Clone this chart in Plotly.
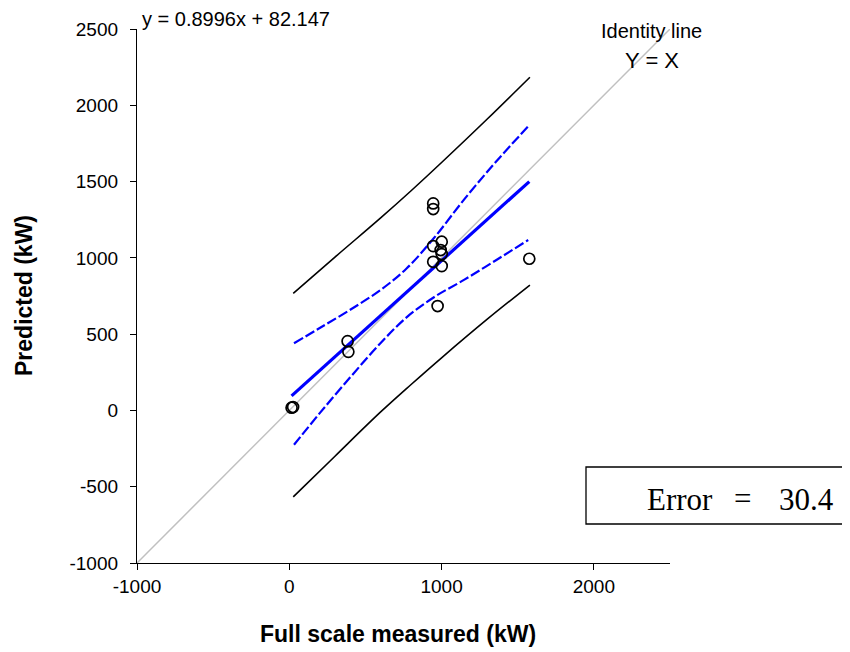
import plotly.graph_objects as go

# Measured vs predicted data points
measured = [15, 25, 383, 388, 945, 945, 945, 1001, 994, 1001, 945, 1001, 1576, 974]
predicted = [18, 22, 454, 384, 1357, 1320, 1077, 1106, 1051, 1025, 974, 946, 994, 684]

# Regression fit (from the equation shown)
slope = 0.8996
intercept = 82.147
fit_x = [15, 1576]

# Confidence band (blue dashed)
conf_up_x = [31, 200, 400, 600, 770, 950, 1150, 1360, 1569]
conf_up_y = [440, 540, 660, 790, 930, 1130, 1385, 1633, 1862]
conf_lo_x = [31, 200, 400, 600, 770, 950, 1150, 1360, 1569]
conf_lo_y = [-225, -18, 217, 442, 610, 742, 857, 986, 1117]

# Prediction band (black)
pred_up_x = [26, 300, 600, 800, 1000, 1300, 1580]
pred_up_y = [767, 1005, 1262, 1440, 1625, 1910, 2184]
pred_lo_x = [26, 300, 600, 800, 1000, 1300, 1580]
pred_lo_y = [-567, -300, -10, 170, 345, 598, 822]

# Identity line
ident = [-1000, 2500]

x_ticks = [-1000, 0, 1000, 2000]
y_ticks = [-1000, -500, 0, 500, 1000, 1500, 2000, 2500]

SANS = "Liberation Sans, Arial, sans-serif"
SERIF = "Liberation Serif, Times New Roman, serif"

fig = go.Figure()

fig.add_trace(go.Scatter(x=ident, y=ident, mode="lines",
                         line=dict(color="#c0c0c0", width=1.5), hoverinfo="skip"))
fig.add_trace(go.Scatter(x=pred_up_x, y=pred_up_y, mode="lines",
                         line=dict(color="black", width=1.6, shape="spline")))
fig.add_trace(go.Scatter(x=pred_lo_x, y=pred_lo_y, mode="lines",
                         line=dict(color="black", width=1.6, shape="spline")))
fig.add_trace(go.Scatter(x=conf_up_x, y=conf_up_y, mode="lines",
                         line=dict(color="#0000ff", width=2.2, dash="10px,3px", shape="spline")))
fig.add_trace(go.Scatter(x=conf_lo_x, y=conf_lo_y, mode="lines",
                         line=dict(color="#0000ff", width=2.2, dash="10px,3px", shape="spline")))
fig.add_trace(go.Scatter(x=fit_x, y=[slope * v + intercept for v in fit_x], mode="lines",
                         line=dict(color="#0000ff", width=3.2)))
fig.add_trace(go.Scatter(x=measured, y=predicted, mode="markers",
                         marker=dict(symbol="circle-open", size=11, color="black",
                                     line=dict(color="black", width=1.7))))

fig.update_layout(
    width=842, height=644,
    margin=dict(l=129, r=180, t=21, b=89),
    paper_bgcolor="white", plot_bgcolor="white",
    showlegend=False,
    font=dict(family=SANS, size=19, color="black"),
    xaxis=dict(range=[-1000, 2500], tickvals=x_ticks, ticktext=[str(v) for v in x_ticks],
               showgrid=False, zeroline=False, showline=True, linecolor="black", linewidth=1.3,
               ticks="outside", ticklen=6, tickwidth=1.3, tickcolor="black",
               tickfont=dict(family=SANS, size=19, color="black")),
    yaxis=dict(range=[-1000, 2500], tickvals=y_ticks, ticktext=[str(v) for v in y_ticks],
               showgrid=False, zeroline=False, showline=True, linecolor="black", linewidth=1.3,
               ticks="outside", ticklen=6, tickwidth=1.3, tickcolor="black",
               ticklabelstandoff=8,
               tickfont=dict(family=SANS, size=19, color="black")),
)

# helpers: page pixel -> paper fraction (plot area spans 137..670 x, 29..563 y on the page)
W, H = 533.0, 534.0
def px(xp):
    return (xp - 137) / W
def py(yp):
    return (563 - yp) / H

ann = [
    dict(text="y = 0.8996x + 82.147", x=px(140), y=py(19), xanchor="left", yanchor="middle",
         font=dict(family=SANS, size=20)),
    dict(text="Identity line", x=px(651), y=py(31), xanchor="center", yanchor="middle",
         font=dict(family=SANS, size=20)),
    dict(text="Y = X", x=px(652), y=py(60), xanchor="center", yanchor="middle",
         font=dict(family=SANS, size=22)),
    dict(text="Error", x=px(680), y=py(499), xanchor="center", yanchor="middle",
         font=dict(family=SERIF, size=31)),
    dict(text="=", x=px(742), y=py(498), xanchor="center", yanchor="middle",
         font=dict(family=SERIF, size=31)),
    dict(text="30.4", x=px(806), y=py(499), xanchor="center", yanchor="middle",
         font=dict(family=SERIF, size=31)),
    dict(text="<b>Full scale measured (kW)</b>", x=px(398), y=py(634), xanchor="center",
         yanchor="middle", font=dict(family=SANS, size=23)),
    dict(text="<b>Predicted (kW)</b>", x=px(24), y=py(296), xanchor="center", yanchor="middle",
         textangle=-90, font=dict(family=SANS, size=23)),
]
for a in ann:
    a.update(xref="paper", yref="paper", showarrow=False)
fig.update_layout(annotations=ann)

fig.add_shape(type="rect", xref="paper", yref="paper",
              x0=px(586), x1=px(849), y0=py(524), y1=py(467),
              line=dict(color="black", width=1.3), fillcolor="rgba(0,0,0,0)")

fig.write_html("out.html")
